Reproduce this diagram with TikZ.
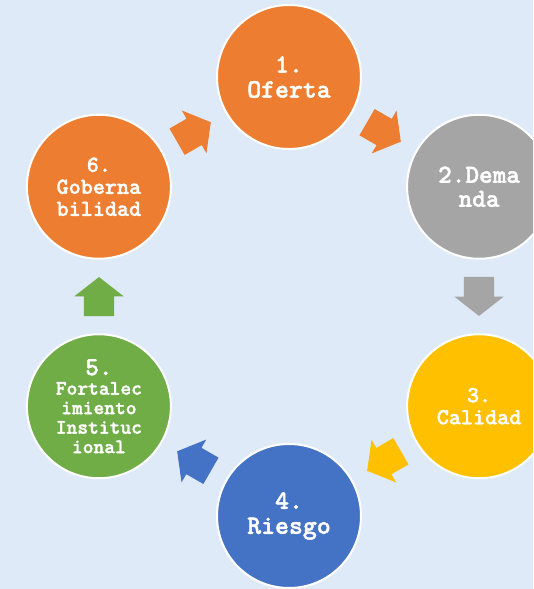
\documentclass[tikz,border=0pt]{standalone}
\usepackage{fontspec}
\newfontfamily\stagefont{lmmonolt10-bold}[Extension=.otf, FakeBold=1.6]
\usetikzlibrary{shapes.arrows}
\definecolor{bgBlue}{HTML}{DFEAF8}
\definecolor{cOrange}{HTML}{ED7D31}
\definecolor{cGray}{HTML}{A5A5A5}
\definecolor{cGold}{HTML}{FFC000}
\definecolor{cBlue}{HTML}{4472C4}
\definecolor{cGreen}{HTML}{70AD47}
\begin{document}
\begin{tikzpicture}[x=1pt, y=1pt,
    stage/.style = {draw=white, line width=2pt, circle, minimum size=144pt, inner sep=0pt, text=white, align=center},
    flow/.style  = {single arrow, draw=none, inner xsep=0pt, inner ysep=15pt, outer sep=0pt, minimum height=39pt,
                    single arrow head extend=9.5pt, single arrow tip angle=104}]
    \useasboundingbox (-289,-292.5) rectangle (244,296.5);
    \fill[bgBlue] (-289,-292.5) rectangle (244,296.5);
    \clip (-289,-292.5) rectangle (244,296.5);
    \node[stage, fill=cOrange, font=\stagefont\fontsize{26.5}{25}\selectfont] (1) at (90:219.5pt)   {1.\\Oferta};
    \node[stage, fill=cGray,   font=\stagefont\fontsize{26}{24}\selectfont] (2) at (30:219.5pt)   {2.Dema\\nda};
    \node[stage, fill=cGold,   font=\stagefont\fontsize{23}{22}\selectfont] (3) at (-30:219.5pt)  {3.\\Calidad};
    \node[stage, fill=cBlue,   font=\stagefont\fontsize{26.5}{25}\selectfont] (4) at (-90:219.5pt)  {4.\\Riesgo};
    \node[stage, fill=cGreen,  font=\stagefont\fontsize{20.5}{19.5}\selectfont] (5) at (-150:219.5pt)
        {{\fontsize{26}{19.5}\selectfont 5.}\\Fortalec\\imiento\\Instituc\\ional};
    \node[stage, fill=cOrange, font=\stagefont\fontsize{23}{22}\selectfont] (6) at (150:219.5pt) {6.\\Goberna\\bilidad};
    % arrows between the stages
    \node[flow, fill=cOrange, rotate=30, xshift=-6pt]   (a61) at (120:190pt)  {};
    \node[flow, fill=cOrange, rotate=-30, xshift=-6pt]  (a12) at (60:190pt)   {};
    \node[flow, fill=cGray,   rotate=-90, xshift=-6pt]  (a23) at (0:190pt)    {};
    \node[flow, fill=cGold,   rotate=-150, xshift=-6pt] (a34) at (-60:190pt)  {};
    \node[flow, fill=cBlue,   rotate=150, xshift=-6pt]  (a45) at (-120:190pt) {};
    \node[flow, fill=cGreen,  rotate=90, xshift=-6pt]   (a56) at (180:190pt)  {};
\end{tikzpicture}
\end{document}
